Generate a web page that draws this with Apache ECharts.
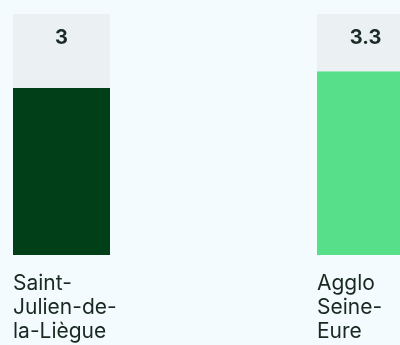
<!DOCTYPE html>
<html>
<head>
<meta charset="utf-8">
<style>
  html, body { margin: 0; padding: 0; background: #f3fbff; }
  #chart { width: 400px; height: 345px; }
</style>
<script src="https://cdn.jsdelivr.net/npm/echarts@6/dist/echarts.min.js"></script>
</head>
<body>
<div id="chart"></div>
<script>
// Territories compared and their values
const categories = ['Saint-Julien-de-la-Liègue', 'Agglo Seine-Eure'];
const values = [3, 3.3];
const barColors = ['#003f17', '#58df89'];
// Top of the scale (the grey track above each bar fills up to it)
const scaleMax = 4.33;

const LABEL_FONT = '400 21px Inter';
const WRAP_WIDTH = 105;

// Greedy wrap at hyphens and spaces, measured in the label font
const measureCtx = document.createElement('canvas').getContext('2d');
function wrapName(name) {
  measureCtx.font = LABEL_FONT;
  const tokens = name.match(/[^\s-]+-?|\s+/g) || [name];
  const lines = [];
  let line = '';
  tokens.forEach(function (tok) {
    if (/^\s+$/.test(tok)) { line += ' '; return; }
    const trial = line + tok;
    if (line.trim() && measureCtx.measureText(trial.trim()).width > WRAP_WIDTH) {
      lines.push(line.trim());
      line = tok;
    } else {
      line = trial;
    }
  });
  if (line.trim()) lines.push(line.trim());
  return lines.join('\n');
}

const chart = echarts.init(document.getElementById('chart'), null, { renderer: 'canvas' });
chart.setOption({
  backgroundColor: '#f3fbff',
  animation: false,
  grid: {
    left: 61.5, right: 34.5, top: 14, bottom: 90,
    outerBoundsMode: 'none',
    containLabel: false
  },
  xAxis: {
    type: 'category',
    data: categories,
    boundaryGap: false,
    axisLine: { show: false },
    axisTick: { show: false },
    axisLabel: {
      margin: 17,
      interval: 0,
      hideOverlap: false,
      formatter: function (name) { return '{t|' + wrapName(name) + '}'; },
      rich: {
        t: {
          width: 97,
          align: 'left',
          fontFamily: 'Inter',
          fontSize: 21,
          lineHeight: 24,
          color: '#18291f'
        }
      }
    }
  },
  yAxis: {
    type: 'value',
    min: 0,
    max: scaleMax,
    show: false,
    splitLine: { show: false }
  },
  series: [
    {
      type: 'bar',
      stack: 'total',
      barWidth: 97,
      data: values.map(function (v, i) {
        return { value: v, itemStyle: { color: barColors[i] } };
      })
    },
    {
      type: 'bar',
      stack: 'total',
      barWidth: 97,
      itemStyle: { color: '#ebf1f2' },
      data: values.map(function (v) { return +(scaleMax - v).toFixed(3); }),
      label: {
        show: true,
        position: 'insideTop',
        distance: 14,
        formatter: function (p) { return String(values[p.dataIndex]); },
        fontFamily: 'Inter',
        fontWeight: 'bold',
        fontSize: 20,
        color: '#1c2a25'
      }
    }
  ]
});
</script>
</body>
</html>
